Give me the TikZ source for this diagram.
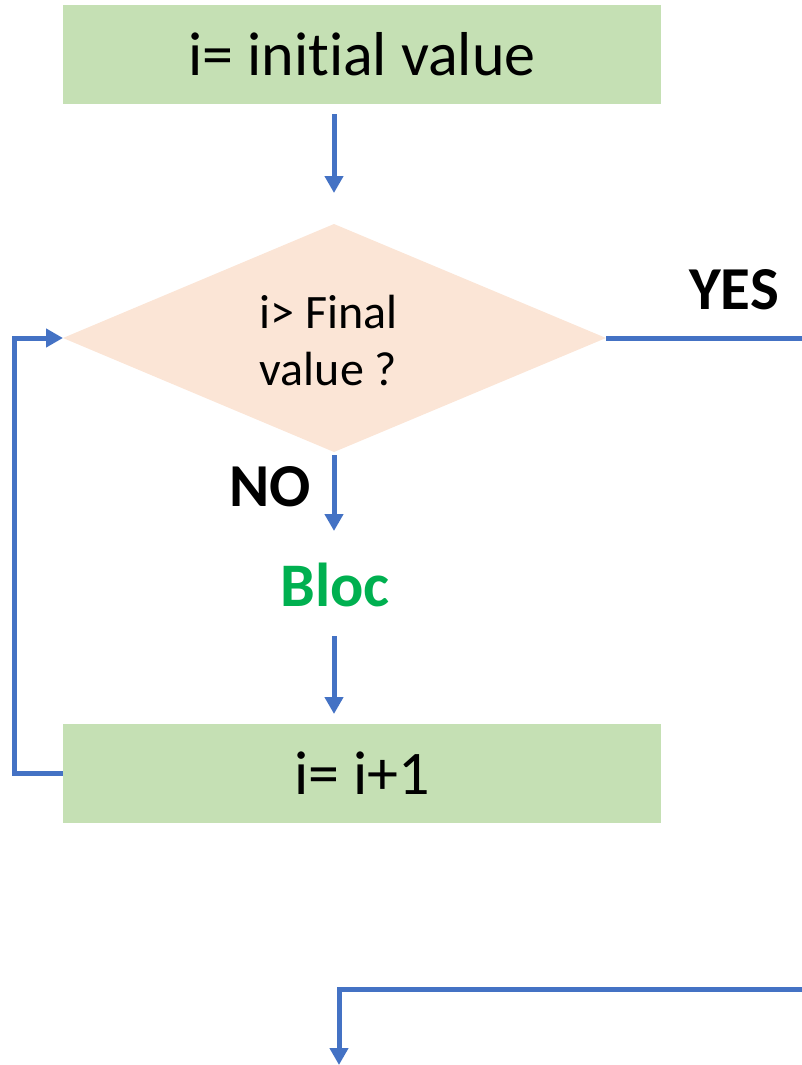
\documentclass[tikz,border=0pt]{standalone}
\usepackage{fontspec}
\setmainfont{Carlito}[Ligatures=NoCommon]
\usetikzlibrary{arrows.meta,shapes.geometric}
\definecolor{flowblue}{HTML}{4472C4}
\definecolor{boxgreen}{HTML}{C5E0B4}
\definecolor{decpeach}{HTML}{FBE5D6}
\definecolor{blocgreen}{HTML}{00B050}
\begin{document}
\begin{tikzpicture}[x=1pt,y=-1pt,
  procbox/.style={fill=boxgreen,draw=none,minimum width=598pt,minimum height=99pt,inner sep=0pt,font=\fontsize{62}{74}\selectfont},
  link/.style={draw=flowblue,line width=5pt},
  flow/.style={link,-{Triangle[width=18pt,length=17pt]}},
  tag/.style={font=\fontsize{61}{72}\selectfont\bfseries}]
\useasboundingbox (0,0) rectangle (802,1065);
% start box
\node[procbox] (init) at (362,54.5) {i= initial value};
% decision diamond
\fill[decpeach] (63,338) -- (334,224) -- (606,338) -- (334,452) -- cycle;
\coordinate (dl) at (63,338);
\coordinate (dr) at (606,338);
\coordinate (dt) at (334,224);
\coordinate (db) at (334,452);
\node[font=\fontsize{48}{57}\selectfont,align=left,inner sep=0pt] (cond) at (329,341) {i> Final\\value ?};
% loop body and increment
\node[font=\fontsize{62}{74}\selectfont\bfseries,text=blocgreen,inner sep=0pt] (bloc) at (335,585) {Bloc};
\node[procbox] (incr) at (362,773) {i= i+1};
% labels
\node[tag,inner sep=0pt] (yes) at (734,290) {YES};
\node[tag,inner sep=0pt] (no) at (270,487) {NO};
% connectors
\coordinate (a1s) at (334,114);
\coordinate (a1e) at (334,193);
\draw[flow] (a1s) -- (a1e);
\coordinate (a2s) at (334,455);
\coordinate (a2e) at (334,531);
\draw[flow] (a2s) -- (a2e);
\coordinate (a3s) at (334,636);
\coordinate (a3e) at (334,714);
\draw[flow] (a3s) -- (a3e);
% back edge to the test
\coordinate (lb) at (14,773);
\coordinate (lt) at (14,338);
\draw[flow] (incr.west) -- (lb) -- (lt) -- (dl);
% exit branch
\coordinate (yr) at (802,338);
\draw[link] (dr) -- (yr);
\coordinate (er) at (802,989);
\coordinate (ec) at (339,989);
\coordinate (ee) at (339,1065);
\draw[flow] (er) -- (ec) -- (ee);
\end{tikzpicture}
\end{document}
